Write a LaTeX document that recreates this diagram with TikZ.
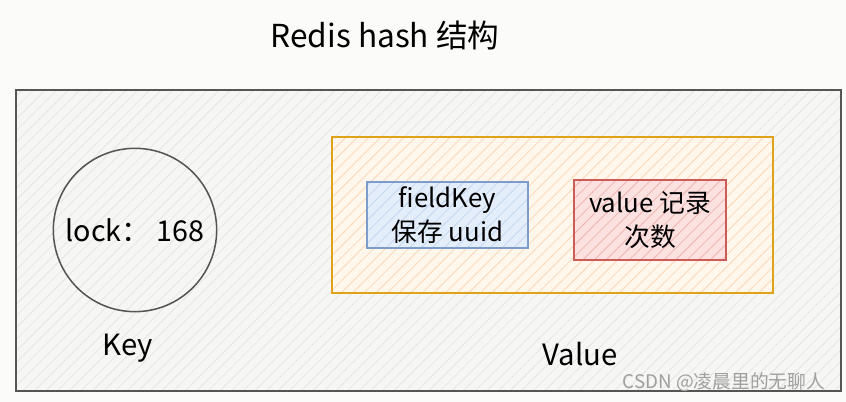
\documentclass[tikz,border=0pt]{standalone}
\usepackage{fontspec}
\setmainfont{Noto Sans CJK SC}
\usetikzlibrary{positioning, patterns.meta}

\definecolor{pagebg}{HTML}{FBFBF9}
\definecolor{framegray}{HTML}{555555}
\definecolor{hashfill}{HTML}{F6F6F4}
\definecolor{hashline}{HTML}{E6E6E2}
\definecolor{valborder}{HTML}{E0A318}
\definecolor{valfill}{HTML}{FFF6EC}
\definecolor{valline}{HTML}{FBD9B8}
\definecolor{fieldborder}{HTML}{7C9CCB}
\definecolor{fieldfill}{HTML}{E4EEFB}
\definecolor{fieldline}{HTML}{C4D6F0}
\definecolor{cntborder}{HTML}{CC5C58}
\definecolor{cntfill}{HTML}{FBE2E0}
\definecolor{cntline}{HTML}{F0B4B0}

\begin{document}
\begin{tikzpicture}[
    x=0.03cm, y=-0.03cm,
    hatch/.style 2 args={preaction={fill=#1}, preaction={pattern={Lines[angle=45,distance=7pt,line width=0.7pt]}, pattern color=#2}},
    frame/.style={rectangle, draw=framegray, line width=1.4pt, hatch={hashfill}{hashline}, minimum width=24.75cm, minimum height=9.03cm},
    keyring/.style={circle, draw=framegray, line width=1.3pt, hatch={hashfill}{hashline}, minimum size=4.9cm, inner sep=0pt, font=\fontsize{24.5}{28}\selectfont},
    valbox/.style={rectangle, draw=valborder, line width=1.5pt, hatch={valfill}{valline}, minimum width=13.23cm, minimum height=4.68cm},
    inbox/.style={rectangle, line width=1.2pt, align=center, inner sep=0pt, font=\fontsize{22}{29}\selectfont},
    caption/.style={font=\fontsize{25}{29}\selectfont}
]
    \fill[pagebg] (0,0) rectangle (846,402);

    \node[font=\fontsize{27}{31}\selectfont] (title) at (385,35) {Redis hash 结构};

    \node[frame] (hash) at (428.5,240.5) {};
    \node[keyring] (key) at (135,230) {lock： 168};
    \node[valbox] (value) at (552.5,215) {};

    \node[inbox, draw=fieldborder, hatch={fieldfill}{fieldline}, minimum width=4.83cm, minimum height=1.98cm] (field) at (447.5,215) {fieldKey\\保存 uuid};
    \node[inbox, draw=cntborder, hatch={cntfill}{cntline}, minimum width=4.56cm, minimum height=2.4cm] (count) at (650,220) {value 记录\\次数};

    \node[caption] (keylabel) at (128,348) {Key};
    \node[caption] (valuelabel) at (580,354) {Value};

    \node[font=\fontsize{16}{18}\selectfont, text=gray!75] (mark) at (724,382) {CSDN @凌晨里的无聊人};
\end{tikzpicture}
\end{document}
